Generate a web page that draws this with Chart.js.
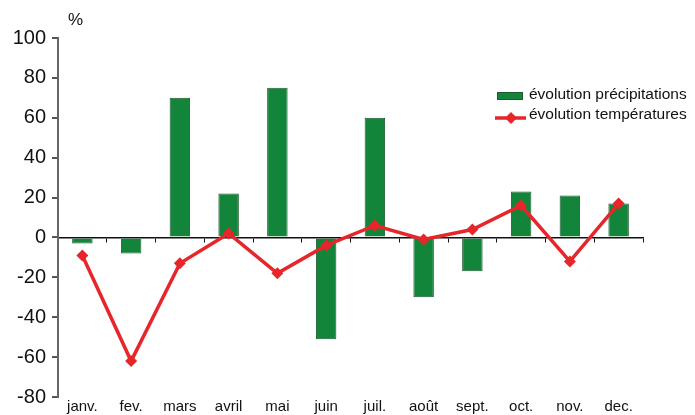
<!DOCTYPE html>
<html>
<head>
<meta charset="utf-8">
<script src="https://cdn.jsdelivr.net/npm/chart.js@4/dist/chart.umd.min.js"></script>
<style>
  html, body { margin: 0; padding: 0; background: #fff; }
  #wrap { width: 695px; height: 415px; }
</style>
</head>
<body>
<div id="wrap"><canvas id="chart" width="695" height="415"></canvas></div>
<script>
// months and values (in %)
const months = ['janv.', 'fev.', 'mars', 'avril', 'mai', 'juin', 'juil.', 'août', 'sept.', 'oct.', 'nov.', 'dec.'];
const precipitations = [-3, -8, 70, 22, 75, -51, 60, -30, -17, 23, 21, 17];
const temperatures = [-9, -62, -13, 2, -18, -4, 6, -1, 4, 16, -12, 17];
const yTicks = [-80, -60, -40, -20, 0, 20, 40, 60, 80, 100];

const GREEN = '#13853a';
const RED = '#e6262a';
const FONT = '"Liberation Sans", Arial, sans-serif';

// "%" above the y axis + the legend inside the plot
const extras = {
    id: 'extras',
    afterDraw(chart) {
        const ctx = chart.ctx;
        ctx.save();
        ctx.fillStyle = '#111';
        ctx.font = '17px ' + FONT;
        ctx.textBaseline = 'middle';
        ctx.textAlign = 'left';
        ctx.fillText('%', 68, 20);

        ctx.font = '15.5px ' + FONT;
        ctx.fillStyle = GREEN;
        ctx.strokeStyle = '#1d5a2e';
        ctx.lineWidth = 1;
        ctx.fillRect(497, 92, 26, 8);
        ctx.strokeRect(497.5, 92.5, 25, 7);
        ctx.fillStyle = '#111';
        ctx.fillText('évolution précipitations', 529, 95);

        ctx.strokeStyle = RED;
        ctx.lineWidth = 3.5;
        ctx.beginPath();
        ctx.moveTo(495, 118);
        ctx.lineTo(526, 118);
        ctx.stroke();
        ctx.fillStyle = RED;
        ctx.beginPath();
        ctx.moveTo(511, 112);
        ctx.lineTo(517, 118);
        ctx.lineTo(511, 124);
        ctx.lineTo(505, 118);
        ctx.closePath();
        ctx.fill();
        ctx.fillStyle = '#111';
        ctx.fillText('évolution températures', 529, 115);
        ctx.restore();
    }
};

new Chart(document.getElementById('chart'), {
    type: 'bar',
    data: {
        labels: months,
        datasets: [{
            type: 'line',
            label: 'évolution températures',
            data: temperatures,
            borderColor: RED,
            backgroundColor: RED,
            borderWidth: 3.5,
            pointStyle: 'rectRot',
            pointRadius: 6,
            pointBorderWidth: 0,
            tension: 0,
            xAxisID: 'x',
            order: 0
        }, {
            label: 'évolution précipitations',
            data: precipitations,
            backgroundColor: GREEN,
            borderColor: '#1d5a2e',
            borderWidth: 1,
            categoryPercentage: 1,
            barPercentage: 0.42,
            xAxisID: 'x',
            order: 1
        }]
    },
    options: {
        responsive: false,
        animation: false,
        layout: { padding: { top: 38, right: 52, left: 0, bottom: 0 } },
        plugins: {
            legend: { display: false },
            tooltip: { enabled: false }
        },
        scales: {
            x: {
                position: 'bottom',
                offset: true,
                grid: { display: false, drawTicks: false },
                border: { display: false },
                ticks: {
                    color: '#111',
                    font: { family: FONT, size: 15 },
                    padding: 1,
                    maxRotation: 0,
                    autoSkip: false
                },
                afterFit(scale) { scale.height = 18; }
            },
            x0: {
                type: 'category',
                position: { y: 0 },
                offset: true,
                ticks: { display: false },
                grid: {
                    offset: true,
                    drawOnChartArea: false,
                    drawTicks: true,
                    tickLength: 4,
                    color: '#111',
                    lineWidth: 1
                },
                border: { display: true, color: '#111', width: 1.5 },
                afterFit(scale) { scale.height = 0; }
            },
            y: {
                min: -80,
                max: 100,
                afterBuildTicks(scale) {
                    scale.ticks = yTicks.map(v => ({ value: v }));
                },
                grid: {
                    drawOnChartArea: false,
                    drawTicks: true,
                    tickLength: 6,
                    color: '#555',
                    lineWidth: 2
                },
                border: { display: true, color: '#666', width: 2 },
                ticks: {
                    color: '#111',
                    font: { family: FONT, size: 20 },
                    padding: 6
                },
                afterFit(scale) { scale.width = 58; }
            }
        }
    },
    plugins: [extras]
});
</script>
</body>
</html>
